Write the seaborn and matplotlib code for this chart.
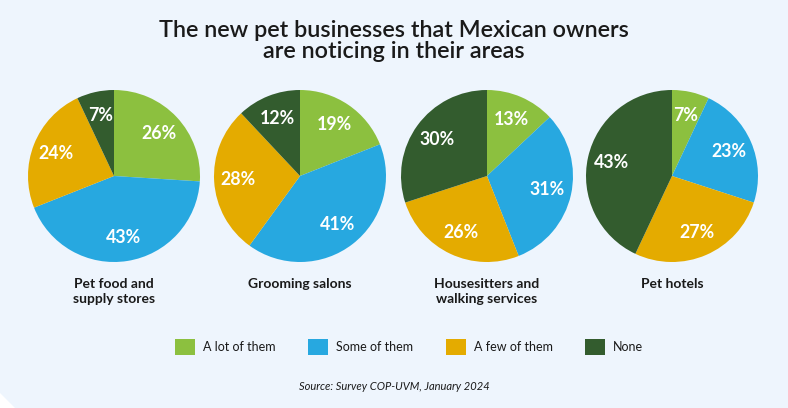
import matplotlib
matplotlib.use("Agg")
import matplotlib.pyplot as plt
from matplotlib.patches import Patch, Polygon
import seaborn as sns

# data
categories = ["Pet food and\nsupply stores", "Grooming salons",
              "Housesitters and\nwalking services", "Pet hotels"]
answers = ["A lot of them", "Some of them", "A few of them", "None"]
a_lot = [26, 19, 13, 7]
some = [43, 41, 31, 23]
a_few = [24, 28, 26, 27]
none = [7, 12, 30, 43]

title = "The new pet businesses that Mexican owners\nare noticing in their areas"
source = "Source: Survey COP-UVM, January 2024"

sns.set_theme(style="white")
plt.rcParams['font.family'] = ['Lato', 'DejaVu Sans']
colors = sns.color_palette(["#8CC03F", "#27A8E0", "#E4AB00", "#335C2E"])
bg = "#EEF5FD"

W, H = 788, 408
fig = plt.figure(figsize=(W / 100, H / 100), dpi=100, facecolor=bg)

centers_x = [114, 300, 487, 672]
cy, r = 176, 86

for i, cat in enumerate(categories):
    vals = [a_lot[i], some[i], a_few[i], none[i]]
    cx = centers_x[i]
    ax = fig.add_axes([(cx - r) / W, (H - cy - r) / H, 2 * r / W, 2 * r / H])
    ax.set_facecolor(bg)
    wedges, texts, autotexts = ax.pie(
        vals, colors=colors, startangle=90, counterclock=False,
        autopct="%d%%", pctdistance=0.72, radius=1.0,
        wedgeprops=dict(linewidth=0),
        textprops=dict(color="white", fontsize=12.8, fontweight="bold"))
    ax.set_xlim(-1, 1)
    ax.set_ylim(-1, 1)
    ax.set_aspect("equal")
    ax.axis("off")
    fig.text(cx / W, 1 - 278 / H, cat, ha="center", va="top",
             fontsize=10, fontweight="bold", color="#1a1a1a", linespacing=1.3)

fig.text(0.5, 1 - 20 / H, title, ha="center", va="top", fontsize=16.8,
         fontweight="semibold", color="#1a1a1a", linespacing=1.0)

handles = [Patch(facecolor=c, edgecolor="none", label=a) for c, a in zip(colors, answers)]
fig.legend(handles=handles, loc="center", bbox_to_anchor=(409 / W, 1 - 347 / H),
           ncol=4, frameon=False, fontsize=9, handlelength=1.6, handleheight=1.6,
           handletextpad=0.65, columnspacing=2.6, labelcolor="#1a1a1a")

fig.text(0.5, 1 - 387 / H, source, ha="center", va="center", fontsize=8,
         style="italic", color="#1a1a1a")

# clipped bottom-left corner
fig.patches.append(Polygon([[0, 0], [15 / W, 0], [0, 15 / H]], closed=True,
                           transform=fig.transFigure, facecolor="white",
                           edgecolor="none"))

fig.savefig("out.png", dpi=100, facecolor=bg)
